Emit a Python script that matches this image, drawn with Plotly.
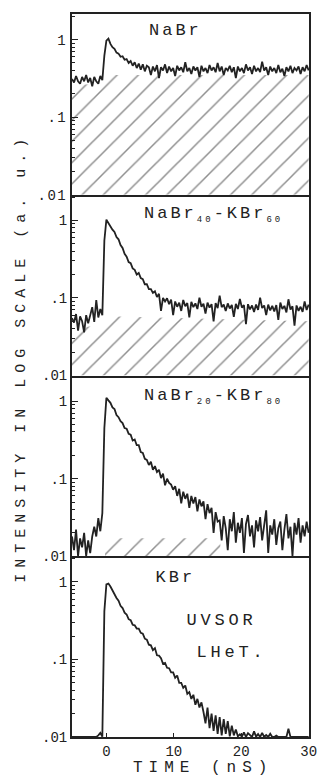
import json
import numpy as np
import plotly.graph_objects as go
from plotly.subplots import make_subplots

# ---- time channels (ns) ----
T_START = -5.1
T_STEP = 0.3
N_CH = 118
time_ns = np.round(T_START + T_STEP * np.arange(N_CH), 2)

# ---- decay curves, intensity normalised (a.u.) ----
nabr = [
    0.31, 0.28, 0.34, 0.29, 0.27, 0.33, 0.29, 0.35, 0.28, 0.32, 0.25, 0.33, 0.29, 0.27, 0.34, 0.30,
    0.62, 0.97, 1.03,
    0.88, 0.80, 0.76, 0.68, 0.66, 0.60, 0.61, 0.55, 0.56, 0.50, 0.53, 0.46, 0.51, 0.43, 0.49, 0.41,
    0.48, 0.39, 0.46,
    0.44, 0.35, 0.45, 0.39, 0.47, 0.32, 0.44, 0.40, 0.48, 0.37,
    0.45, 0.39, 0.43, 0.34, 0.46, 0.40, 0.44, 0.38, 0.51, 0.39,
    0.43, 0.36, 0.45, 0.40, 0.44, 0.33, 0.46, 0.39, 0.43, 0.37,
    0.47, 0.40, 0.44, 0.38, 0.50, 0.39, 0.45, 0.35, 0.43, 0.40,
    0.46, 0.38, 0.44, 0.32, 0.45, 0.39, 0.43, 0.37, 0.48, 0.40,
    0.44, 0.36, 0.46, 0.39, 0.43, 0.38, 0.52, 0.40, 0.44, 0.35,
    0.45, 0.39, 0.43, 0.37, 0.47, 0.38, 0.42, 0.34, 0.44, 0.39,
    0.46, 0.37, 0.43, 0.40, 0.45, 0.36, 0.44, 0.39, 0.47, 0.40,
]

nabr40_kbr60 = [
    0.055, 0.048, 0.062, 0.038, 0.058, 0.050, 0.036, 0.060, 0.047, 0.063, 0.076, 0.049, 0.094, 0.056, 0.072, 0.060,
    0.55, 1.02, 0.92,
    0.85, 0.76, 0.71, 0.61, 0.57, 0.48, 0.44, 0.37, 0.34, 0.29, 0.28, 0.24, 0.23, 0.20, 0.21, 0.18,
    0.175, 0.15, 0.15, 0.13, 0.13, 0.116, 0.122, 0.103, 0.113, 0.068, 0.10, 0.090, 0.099, 0.083, 0.095, 0.060,
    0.090, 0.077, 0.087, 0.068, 0.094, 0.078, 0.086, 0.056, 0.089, 0.076,
    0.085, 0.072, 0.101, 0.077, 0.084, 0.063, 0.087, 0.075, 0.083, 0.050,
    0.086, 0.074, 0.107, 0.076, 0.082, 0.068, 0.085, 0.073, 0.081, 0.057,
    0.084, 0.072, 0.097, 0.075, 0.081, 0.046, 0.083, 0.071, 0.080, 0.066,
    0.082, 0.070, 0.101, 0.074, 0.080, 0.060, 0.082, 0.069, 0.079, 0.067,
    0.081, 0.052, 0.087, 0.072, 0.079, 0.065, 0.096, 0.071, 0.078, 0.044,
    0.080, 0.068, 0.077, 0.066, 0.090, 0.070, 0.082,
]

nabr20_kbr80 = [
    0.018, 0.012, 0.022, 0.010, 0.017, 0.013, 0.020, 0.010, 0.016, 0.011, 0.018, 0.024, 0.018, 0.031, 0.021, 0.036,
    0.45, 1.10, 1.02,
    0.95, 0.83, 0.79, 0.66, 0.62, 0.55, 0.52, 0.45, 0.44, 0.38,
    0.37, 0.31, 0.32, 0.27, 0.27, 0.22, 0.215, 0.18, 0.175, 0.15,
    0.165, 0.13, 0.145, 0.122, 0.13, 0.102, 0.116, 0.082, 0.10, 0.088,
    0.084, 0.072, 0.080, 0.060, 0.074, 0.048, 0.068, 0.055, 0.064, 0.042,
    0.060, 0.048, 0.058, 0.038, 0.054, 0.044, 0.051, 0.030, 0.047, 0.036,
    0.042, 0.020, 0.037, 0.028,
    0.029, 0.016, 0.033, 0.023, 0.012, 0.030, 0.021, 0.037, 0.015, 0.027,
    0.020, 0.031, 0.011, 0.026, 0.034, 0.018, 0.025, 0.013, 0.029, 0.021,
    0.032, 0.016, 0.024, 0.039, 0.011, 0.025, 0.019, 0.030, 0.014, 0.023,
    0.028, 0.012, 0.022, 0.035, 0.017, 0.024, 0.010, 0.027, 0.019, 0.031,
    0.015, 0.025, 0.018, 0.028, 0.020,
]

kbr = [
    0.0100, 0.0100, 0.0100, 0.0100, 0.0100, 0.0100, 0.0100, 0.0100,
    0.0100, 0.0100, 0.0100, 0.0100, 0.0100, 0.0105, 0.0113, 0.0101,
    0.42, 0.93, 0.95,
    0.87, 0.77, 0.71, 0.62, 0.57, 0.49, 0.46, 0.40, 0.38, 0.33,
    0.32, 0.28, 0.275, 0.25, 0.25, 0.22, 0.215, 0.185, 0.18, 0.155,
    0.152, 0.132, 0.14, 0.113, 0.112, 0.104, 0.088, 0.09, 0.078, 0.077,
    0.068, 0.068, 0.058, 0.062, 0.050, 0.050, 0.043, 0.046, 0.036, 0.038,
    0.031, 0.035, 0.026, 0.031, 0.024, 0.028, 0.021, 0.015, 0.024, 0.013,
    0.020, 0.012, 0.019, 0.011, 0.018, 0.0105, 0.017, 0.011, 0.016, 0.0102,
    0.014, 0.0105, 0.0125, 0.0102,
    0.0108, 0.0101, 0.0115, 0.0100, 0.0112, 0.0104, 0.0100, 0.0118, 0.0101, 0.0109,
    0.0100, 0.0113, 0.0100, 0.0106, 0.0100, 0.0110, 0.0100, 0.0100, 0.0104, 0.0100,
    0.0100, 0.0100, 0.0100, 0.0100, 0.0128, 0.0100, 0.0100, 0.0100, 0.0100, 0.0100,
    0.0100, 0.0100, 0.0100, 0.0100, 0.0100,
]

# ---- slow (background) component, drawn hatched ----
hatch_nabr_t = [-5.1, -0.4, 0.3, 30.0]
hatch_nabr_v = [0.26, 0.27, 0.35, 0.35]
hatch_mix40_t = [-5.1, -0.5, 0.2, 30.0]
hatch_mix40_v = [0.040, 0.045, 0.058, 0.050]
hatch_mix20_t = [-0.2, 16.9]
hatch_mix20_v = [0.017, 0.017]

panel_series = [nabr, nabr40_kbr60, nabr20_kbr80, kbr]
panel_hatch = [
    (hatch_nabr_t, hatch_nabr_v),
    (hatch_mix40_t, hatch_mix40_v),
    (hatch_mix20_t, hatch_mix20_v),
    None,
]

# ---- axis ticks ----
x_tickvals = [0, 10, 20, 30]
x_ticktext = ["0", "10", "20", "30"]
y_tickvals = [0.01, 0.1, 1]
y_ticktext = [".01", ".1", "1"]
y_minor = [m * d for d in (0.01, 0.1, 1) for m in range(2, 10) if m * d < 2.1]

X_RANGE = [-5.1, 30.05]
Y_RANGE = [-2, 0.33]

INK = "#222222"
FONT = "Liberation Mono"

fig = make_subplots(rows=4, cols=1, shared_xaxes=True, vertical_spacing=0)

floor = 10 ** Y_RANGE[0]
for i, (series, hatch) in enumerate(zip(panel_series, panel_hatch), start=1):
    if hatch is not None:
        ht, hv = hatch
        fig.add_trace(go.Scatter(x=ht, y=[floor] * len(ht), mode="lines",
                                 line=dict(width=0), hoverinfo="skip", showlegend=False),
                      row=i, col=1)
        fig.add_trace(go.Scatter(x=ht, y=hv, mode="lines", line=dict(width=0),
                                 fill="tonexty", fillcolor="rgba(255,255,255,0)",
                                 fillpattern=dict(shape="/", size=15, solidity=0.1,
                                                  fgcolor="#1e1e1e", bgcolor="white"),
                                 hoverinfo="skip", showlegend=False),
                      row=i, col=1)
    fig.add_trace(go.Scatter(x=time_ns, y=series, mode="lines",
                             line=dict(color=INK, width=1.8), showlegend=False),
                  row=i, col=1)

for i in range(1, 5):
    fig.update_yaxes(type="log", range=Y_RANGE, tickvals=y_tickvals, ticktext=y_ticktext,
                     ticks="inside", ticklen=6, tickwidth=1.2, tickcolor=INK,
                     minor=dict(tickvals=y_minor, ticks="inside", ticklen=3,
                                tickwidth=1, tickcolor=INK, showgrid=False),
                     showline=True, linecolor=INK, linewidth=1.9, mirror=True,
                     showgrid=False, zeroline=False,
                     tickfont=dict(family=FONT, size=14, color=INK),
                     row=i, col=1)
    # panel tops are drawn by the bottom line of the panel above
    fig.update_xaxes(range=X_RANGE, showline=True, linecolor=INK, linewidth=1.9,
                     mirror=(i == 1), showgrid=False, zeroline=False,
                     tickvals=x_tickvals, ticktext=x_ticktext,
                     ticks="inside" if i == 4 else "", ticklen=4, tickcolor=INK,
                     showticklabels=(i == 4),
                     tickfont=dict(family=FONT, size=14, color=INK),
                     row=i, col=1)

L, R, T, B = 72, 14, 13, 42
W, H = 329, 779
pw, ph = W - L - R, H - T - B


def px(x):
    return (x - L) / pw


def py(y):
    return (H - B - y) / ph


SUB = "<sub><span style='font-size:9px'>%s</span></sub>"
labels = [
    ("NaBr", 178, 30, 17, 0),
    ("NaBr" + SUB % "40" + "-KBr" + SUB % "60", 217, 214, 17, 0),
    ("NaBr" + SUB % "20" + "-KBr" + SUB % "80", 217, 396, 17, 0),
    ("KBr", 178, 577, 17, 0),
    ("UVSOR", 225, 620, 17, 0),
    ("LHeT.", 236, 652, 17, 0),
    ("INTENSITY IN LOG SCALE (a. u.)", 20, 357, 15, -90),
    ("TIME (nS)", 206, 768, 16, 0),
]
for text, x, y, size, angle in labels:
    fig.add_annotation(text=text, x=px(x), y=py(y), xref="paper", yref="paper",
                       xanchor="center", yanchor="middle", showarrow=False,
                       textangle=angle, font=dict(family=FONT, size=size, color=INK))

fig.update_layout(width=W, height=H, autosize=False,
                  margin=dict(l=L, r=R, t=T, b=B),
                  paper_bgcolor="white", plot_bgcolor="white")

# wide, typewriter-like letter spacing for the labels
spacing = {
    "INTENSITY IN LOG SCALE (a. u.)": 6,
    "TIME (nS)": 6,
    "UVSOR": 3.8,
    "LHeT.": 3.8,
}
post = """
var gd = document.getElementById('{plot_id}');
var SP = %s;
gd.querySelectorAll('text.annotation-text').forEach(function(el){
  var k = el.getAttribute('data-unformatted');
  var s = (k in SP) ? SP[k] : 3;
  el.style.letterSpacing = s + 'px';
});
gd.querySelectorAll('g.xtick text, g.ytick text').forEach(function(el){
  el.style.letterSpacing = '1.5px';
});
""" % json.dumps(spacing)

fig.write_html("out.html", post_script=post)
